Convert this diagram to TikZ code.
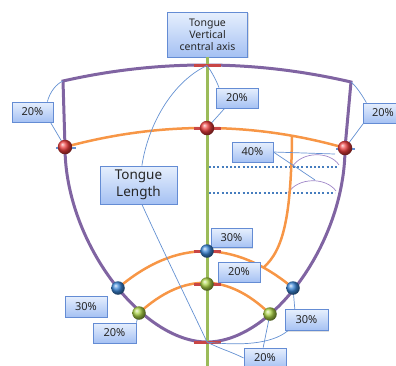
\documentclass[tikz,border=0pt]{standalone}
\usepackage{fontspec}
\setmainfont{Noto Sans}
\usetikzlibrary{shadows}
\definecolor{pur}{RGB}{128,100,162}
\definecolor{purthin}{RGB}{160,135,200}
\definecolor{org}{RGB}{247,150,70}
\definecolor{grn}{RGB}{155,187,89}
\definecolor{redc}{RGB}{235,60,60}
\definecolor{redtk}{RGB}{200,70,70}
\definecolor{bluc}{RGB}{60,135,215}
\definecolor{grnball}{RGB}{170,210,70}
\definecolor{lnk}{RGB}{100,145,210}
\definecolor{dotc}{RGB}{70,125,190}
\definecolor{boxtop}{RGB}{230,239,253}
\definecolor{boxbot}{RGB}{165,193,243}
\definecolor{boxdraw}{RGB}{100,140,212}
\tikzset{
  lbl/.style={draw=boxdraw, line width=0.8pt, top color=boxtop, bottom color=boxbot,
    inner sep=0pt, font=\fontsize{11}{12}\selectfont, text=black!85, align=center,
    drop shadow={opacity=0.25, shadow xshift=1pt, shadow yshift=-1pt}},
  ballshape/.style={circle, inner sep=0pt, shading=ball},
  redball/.style={ballshape, minimum size=14.5pt, ball color=redc},
  blueball/.style={ballshape, minimum size=13.5pt, ball color=bluc},
  greenball/.style={ballshape, minimum size=13.5pt, ball color=grnball},
  purline/.style={draw=pur, line width=3pt, line join=miter},
  orgline/.style={draw=org, line width=2.5pt},
  axisline/.style={draw=grn, line width=3pt},
  redtick/.style={draw=redtk, line width=3pt},
  bluetick/.style={draw=lnk, line width=1.6pt},
  thinline/.style={draw=lnk, line width=0.7pt},
  purthinline/.style={draw=purthin, line width=0.7pt},
  dotline/.style={draw=dotc, line width=2pt, dash pattern=on 2pt off 2.2pt},
}
\begin{document}
\begin{tikzpicture}[x=1pt,y=-1pt]
\useasboundingbox (0,0) rectangle (396,365);
% key coordinates
\coordinate (cL) at (63,81);
\coordinate (cR) at (351,82);
\coordinate (top) at (207,65.5);
\coordinate (bot) at (207,342);
\coordinate (ovs) at (292,137);
\coordinate (ove) at (263,268);
\path (65,147) coordinate (prL) (207,128) coordinate (prC) (345,148) coordinate (prR)
      (118,288) coordinate (pbL) (207,251) coordinate (pbC) (293,288) coordinate (pbR)
      (139,313) coordinate (pgL) (207,284) coordinate (pgC) (270,314) coordinate (pgR);
% purple outline
\draw[purline] (cL) .. controls (159,59.3) and (255,59.7) .. (cR) -- (prR)
  .. controls (345,243) and (272,342) .. (bot)
  .. controls (142,342) and (65,242) .. (prL) -- cycle;
% thin purple dimension arcs
\draw[purthinline] (292,167) .. controls (302,151) and (330,151) .. (339,165);
\draw[purthinline] (288,193) .. controls (298,177) and (326,177) .. (336,191);
% dotted lines
\draw[dotline] (209,167) -- (338,167);
\draw[dotline] (209,193) -- (335,193);
% orange curves
\draw[orgline] (prL) .. controls (160,121.3) and (253,121.7) .. (prR);
\draw[orgline] (pbL) .. controls (176,239) and (234,239) .. (pbR);
\draw[orgline] (pgL) .. controls (184,272) and (228,273) .. (pgR);
\draw[orgline] (ovs) .. controls (291,215) and (284,250) .. (ove);
% top label
\node[lbl, minimum width=80pt, minimum height=45pt, font=\fontsize{10.5}{12}\selectfont] (topbox) at (207.5,34.5) {Tongue\\Vertical\\central axis};
% axis
\draw[axisline] (topbox.south) -- ++(0,312);
% red ticks
\foreach \p in {top,prC,pbC,pgC,bot} \draw[redtick] (\p) ++(-13,0) -- ++(27,0);
% blue ticks at side red balls
\draw[bluetick] (prL) ++(-9,1) -- ++(20,0);
\draw[bluetick] (prR) ++(-9,1) -- ++(19,0);
% other labels
\node[lbl, minimum width=41pt, minimum height=20pt] (L20) at (32.5,112) {20\%};
\node[lbl, minimum width=40pt, minimum height=20pt] (R20) at (383,113) {20\%};
\node[lbl, minimum width=42pt, minimum height=20pt] (C20t) at (237,98) {20\%};
\node[lbl, minimum width=41pt, minimum height=20pt] (P40) at (252.5,152) {40\%};
\node[lbl, minimum width=77pt, minimum height=38pt, font=\fontsize{13.5}{17}\selectfont] (TL) at (138.5,185) {Tongue\\Length};
\node[lbl, minimum width=41pt, minimum height=19pt] (C30) at (231.5,238) {30\%};
\node[lbl, minimum width=42pt, minimum height=20pt] (C20) at (239,272) {20\%};
\node[lbl, minimum width=42pt, minimum height=21pt] (L30) at (86,306.5) {30\%};
\node[lbl, minimum width=43pt, minimum height=20pt] (L20b) at (114.5,333) {20\%};
\node[lbl, minimum width=43pt, minimum height=21pt] (R30) at (306.5,320) {30\%};
\node[lbl, minimum width=42pt, minimum height=20pt] (B20) at (265,358) {20\%};
% callout lines
\draw[thinline] (L20.35) .. controls (50,92) and (56,84) .. (cL);
\draw[thinline] (L20.-30) -- (prL);
\draw[thinline] (R20.148) .. controls (362,95) and (356,86) .. (cR);
\draw[thinline] (R20.-152) -- (prR);
\draw[thinline] (C20t.150) .. controls (217,82) and (212,72) .. (top);
\draw[thinline] (C20t.-140) -- (prC);
\draw[thinline] (TL.80) .. controls (148,125) and (172,82) .. (top);
\draw[thinline] (TL.-80) .. controls (165,255) and (192,310) .. (bot);
\draw[thinline] (B20.west) .. controls (232,352) and (218,348) .. (bot);
\draw[thinline] (B20.100) -- (pgR);
\draw[thinline] (R30.137) -- (pbR);
\draw[thinline] (R30.-150) .. controls (272,344) and (240,346) .. (bot);
\draw[thinline] (L20b.north east) -- (pgL);
\draw[thinline] (P40.east) -- (335,154);
\draw[thinline] (P40.east) -- (315,180);
% balls
\node[redball] (rL) at (prL) {};
\node[redball] (rC) at (prC) {};
\node[redball] (rR) at (prR) {};
\node[blueball] (bL) at (pbL) {};
\node[blueball] (bC) at (pbC) {};
\node[blueball] (bR) at (pbR) {};
\node[greenball] (gL) at (pgL) {};
\node[greenball] (gC) at (pgC) {};
\node[greenball] (gR) at (pgR) {};
\end{tikzpicture}
\end{document}
